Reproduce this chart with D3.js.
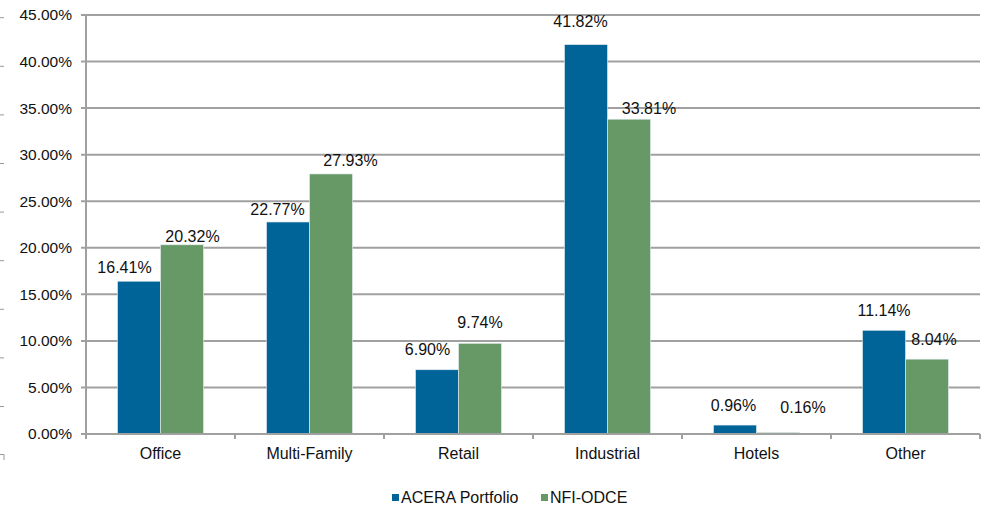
<!DOCTYPE html>
<html><head><meta charset="utf-8">
<script src="https://cdn.jsdelivr.net/npm/d3@7"></script>
<style>body{margin:0;background:#fff}svg{display:block;font-family:"Liberation Sans",Arial,sans-serif}</style>
</head><body><svg id="c" width="984" height="507"></svg>
<script>
const categories = ["Office","Multi-Family","Retail","Industrial","Hotels","Other"];
const seriesNames = ["ACERA Portfolio","NFI-ODCE"];
const acera = [16.41,22.77,6.90,41.82,0.96,11.14];
const odce = [20.32,27.93,9.74,33.81,0.16,8.04];
const yTicks = [0,5,10,15,20,25,30,35,40,45];
// label nudges (layout only)
const nudgeDx = [[-14.5,10.5],[-10.5,19.5],[-9.5,0],[-5.5,20],[-1.5,25],[0,7]];
const nudgeUp = [[14,8],[13,14],[20,21],[23,11],[20,25.5],[20,20]];

const colors = ["#006499","#669966"];
const svg = d3.select("#c");
const L=86,R=980,T=15,B=434;
const x = d3.scaleBand().domain(categories).range([L,R]);
const y = d3.scaleLinear().domain([0,45]).range([B,T]);
const grid="#a0a0a0";

// faint edge marks
const edge = svg.append("g");
for(let i=0;i<9;i++){edge.append("line").attr("x1",0).attr("x2",4).attr("y1",17.7+i*48.6).attr("y2",17.7+i*48.6).attr("stroke","#999").attr("stroke-width",1);}
edge.append("path").attr("d","M0,454.5H4V460").attr("fill","none").attr("stroke","#999");

// gridlines
svg.append("g").selectAll("line").data(yTicks.filter(d=>d>0)).join("line")
  .attr("x1",L-5).attr("x2",R).attr("y1",d=>y(d)).attr("y2",d=>y(d))
  .attr("stroke",grid).attr("stroke-width",2);

// bars
const xs = d3.scaleBand().domain([0,1]).range([0,x.bandwidth()]).paddingOuter(0.7326).paddingInner(0);
const data = categories.map((c,i)=>({c,i,v:[acera[i],odce[i]]}));
const g = svg.append("g");
data.forEach(d=>{
  d.v.forEach((v,s)=>{
    g.append("rect").attr("x",x(d.c)+xs(s)).attr("y",y(v)).attr("width",xs.bandwidth()).attr("height",B-y(v))
      .attr("fill",colors[s]).attr("stroke","#e8eef0").attr("stroke-width",0.6);
  });
});

// axes
svg.append("line").attr("x1",L).attr("x2",L).attr("y1",T).attr("y2",B+5).attr("stroke",grid).attr("stroke-width",2);
svg.append("line").attr("x1",L-5).attr("x2",R).attr("y1",B).attr("y2",B).attr("stroke",grid).attr("stroke-width",2);
svg.append("g").selectAll("line").data(categories.map((c,i)=>x(c)).concat([R])).join("line")
  .attr("x1",d=>d).attr("x2",d=>d).attr("y1",B).attr("y2",B+5).attr("stroke",grid).attr("stroke-width",2);

// y labels
svg.append("g").selectAll("text").data(yTicks).join("text")
  .attr("x",72).attr("y",d=>y(d)).attr("dy","0.35em").attr("text-anchor","end")
  .attr("font-size",15.5).attr("fill","#111").text(d=>d.toFixed(2)+"%");

// x labels
svg.append("g").selectAll("text").data(categories).join("text")
  .attr("x",d=>x(d)+x.bandwidth()/2).attr("y",453).attr("dy","0.35em").attr("text-anchor","middle")
  .attr("font-size",16).attr("fill","#111").text(d=>d);

// value labels
data.forEach(d=>{
  d.v.forEach((v,s)=>{
    svg.append("text").attr("x",x(d.c)+xs(s)+xs.bandwidth()/2+nudgeDx[d.i][s])
      .attr("y",y(v)-nudgeUp[d.i][s]).attr("dy","0.35em").attr("text-anchor","middle")
      .attr("font-size",16).attr("fill","#111").text(v.toFixed(2)+"%");
  });
});

// legend
const lg = svg.append("g");
const lx=[392,541];
seriesNames.forEach((n,i)=>{
  lg.append("rect").attr("x",lx[i]).attr("y",494).attr("width",7).attr("height",7).attr("fill",colors[i]);
  lg.append("text").attr("x",lx[i]+9).attr("y",497.5).attr("dy","0.35em").attr("font-size",16).attr("fill","#111").text(n);
});
</script></body></html>
